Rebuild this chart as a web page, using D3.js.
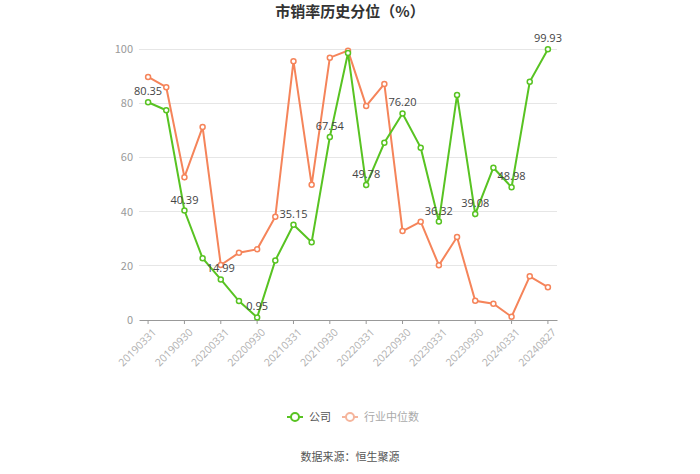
<!DOCTYPE html>
<html><head><meta charset="utf-8">
<script src="https://cdn.jsdelivr.net/npm/d3@7"></script>
<style>body{margin:0;background:#fff;}svg{display:block;font-family:"Noto Sans CJK SC","Microsoft YaHei",sans-serif;}</style>
</head><body><svg id="c" width="700" height="474"></svg>
<script>
const dates = ["20190331","20190630","20190930","20191231","20200331","20200630","20200930","20201231","20210331","20210630","20210930","20211231","20220331","20220630","20220930","20221231","20230331","20230630","20230930","20231231","20240331","20240630","20240827"];
const tickLabels = ["20190331","20190930","20200331","20200930","20210331","20210930","20220331","20220930","20230331","20230930","20240331","20240827"];
const company = [80.35,77.4,40.39,22.8,14.99,7.0,0.95,22.0,35.15,28.7,67.54,98.5,49.78,65.4,76.20,63.6,36.32,83.0,39.08,56.2,48.98,87.9,99.93];
const industry = [89.7,85.9,52.7,71.2,20.3,24.8,26.1,38.1,95.5,49.9,96.8,99.4,79.0,87.1,32.8,36.3,20.2,30.6,7.1,6.0,1.2,16.1,12.1];
const labeledIdx = [0,2,4,6,8,10,12,14,16,18,20,22];
const yTicks = [0,20,40,60,80,100];

const green = "#58c322", orange = "#f5845a";
const svg = d3.select("#c");
const x = d3.scaleBand().domain(dates).range([139,557]);
const y = d3.scaleLinear().domain([0,100]).range([320,49]);
const cx = d => x(d) + x.bandwidth()/2;

svg.append("text").attr("x",350).attr("y",17).attr("text-anchor","middle")
  .attr("font-size",15).attr("font-weight","bold").attr("fill","#333").text("市销率历史分位（%）");

// grid
svg.append("g").selectAll("line").data(yTicks.filter(d=>d>0)).join("line")
  .attr("x1",139).attr("x2",557).attr("y1",d=>y(d)).attr("y2",d=>y(d))
  .attr("stroke","#e6e6e6").attr("stroke-width",1).attr("shape-rendering","crispEdges");
svg.append("g").selectAll("text").data(yTicks).join("text")
  .attr("x",133).attr("y",d=>y(d)+4).attr("text-anchor","end")
  .attr("font-size",11).attr("fill","#999").text(d=>d);

// x axis
const xAxis = d3.axisBottom(x).tickValues(tickLabels).tickSize(4).tickSizeOuter(0);
const gx = svg.append("g").attr("transform","translate(0,320)").call(xAxis);
gx.select(".domain").attr("stroke","#999");
gx.selectAll(".tick line").attr("stroke","#999");
gx.selectAll(".tick text").attr("fill","#b0b0b0").attr("font-size",10.5)
  .attr("font-family","'Open Sans','DejaVu Sans',sans-serif")
  .attr("text-anchor","end").attr("dy",0).attr("dx",0)
  .attr("transform","translate(4,8) rotate(-45)");

function series(vals,color){
  const line = d3.line().x((d,i)=>cx(dates[i])).y(d=>y(d));
  svg.append("path").datum(vals).attr("d",line).attr("fill","none")
    .attr("stroke",color).attr("stroke-width",2);
  svg.append("g").selectAll("circle").data(vals).join("circle")
    .attr("cx",(d,i)=>cx(dates[i])).attr("cy",d=>y(d)).attr("r",2.5)
    .attr("fill","#fff").attr("stroke",color).attr("stroke-width",1.5);
}
series(industry,orange);
series(company,green);

svg.append("g").selectAll("text").data(labeledIdx).join("text")
  .attr("x",i=>cx(dates[i])).attr("y",i=>y(company[i])-7).attr("text-anchor","middle")
  .attr("font-size",11).attr("fill","#444")
  .attr("font-family","'Open Sans','DejaVu Sans',sans-serif")
  .text(i=>company[i].toFixed(2));

// legend
const lg = svg.append("g");
function legendItem(x0,color,textColor,label){
  lg.append("line").attr("x1",x0).attr("x2",x0+16).attr("y1",417).attr("y2",417)
    .attr("stroke",color).attr("stroke-width",2);
  lg.append("circle").attr("cx",x0+8).attr("cy",417).attr("r",4)
    .attr("fill","#fff").attr("stroke",color).attr("stroke-width",2);
  lg.append("text").attr("x",x0+22).attr("y",421).attr("font-size",11)
    .attr("fill",textColor).text(label);
}
legendItem(287,green,"#555","公司");
legendItem(342,"#f5b59c","#aaa","行业中位数");

svg.append("text").attr("x",350).attr("y",461).attr("text-anchor","middle")
  .attr("font-size",11).attr("fill","#555").text("数据来源：恒生聚源");
</script></body></html>
